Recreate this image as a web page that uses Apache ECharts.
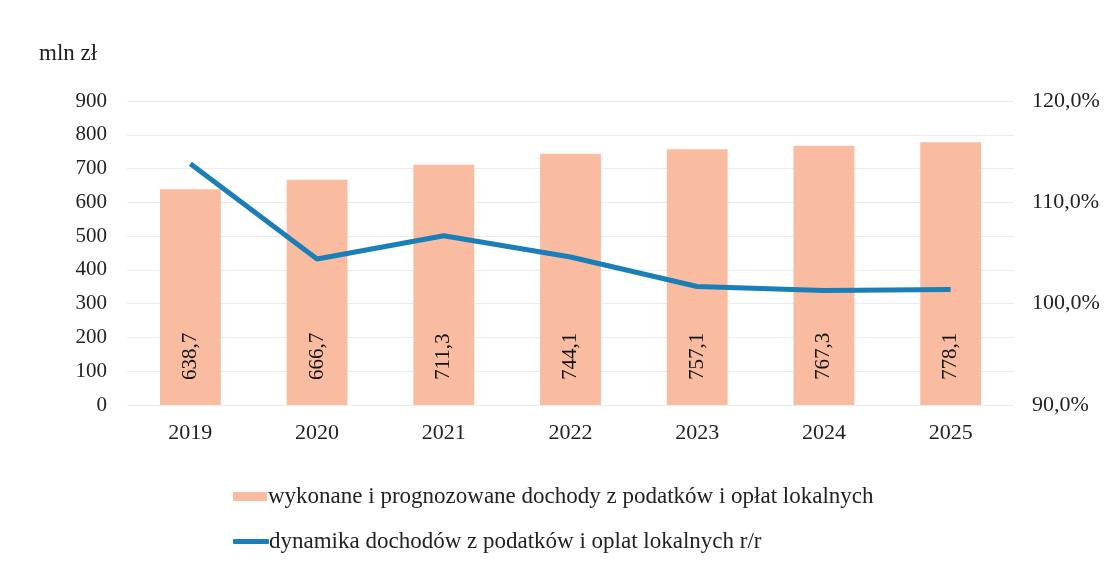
<!DOCTYPE html>
<html>
<head>
<meta charset="utf-8">
<script src="https://cdn.jsdelivr.net/npm/echarts@6/dist/echarts.min.js"></script>
<style>
  html, body { margin: 0; padding: 0; background: #fff; }
  #chart { width: 1117px; height: 574px; }
</style>
</head>
<body>
<div id="chart"></div>
<script>
  // lata
  var years = ['2019', '2020', '2021', '2022', '2023', '2024', '2025']
  // dochody w mln zł
  var income = [638.7, 666.7, 711.3, 744.1, 757.1, 767.3, 778.1]
  // dynamika r/r w %
  var dynamics = [113.8, 104.4, 106.7, 104.6, 101.7, 101.3, 101.4]

  var barName = 'wykonane i prognozowane dochody z podatków i opłat lokalnych'
  var lineName = 'dynamika dochodów z podatków i oplat lokalnych r/r'
  var font = 'Liberation Serif'
  var barColor = '#f9bca0'
  var lineColor = '#1a7fb8'

  var myChart = echarts.init(document.getElementById('chart'))
  myChart.setOption({
    animation: false,
    textStyle: { fontFamily: font },
    grid: { left: 127, right: 103, top: 101, bottom: 169 },
    graphic: [{
      type: 'text', left: 39, top: 42,
      style: { text: 'mln zł', fontFamily: font, fontSize: 23, fill: '#222' }
    }],
    legend: [
      {
        left: 228, top: 480,
        itemWidth: 34, itemHeight: 9,
        textStyle: { fontFamily: font, fontSize: 23, color: '#222', padding: [0, 0, 0, -4] },
        data: [{ name: barName, icon: 'rect' }]
      },
      {
        left: 228, top: 525,
        itemWidth: 36, itemHeight: 5,
        textStyle: { fontFamily: font, fontSize: 23, color: '#222', padding: [0, 0, 0, -5] },
        data: [{ name: lineName, icon: 'roundRect' }]
      }
    ],
    xAxis: {
      type: 'category',
      data: years,
      axisLine: { show: false },
      axisTick: { show: false },
      axisLabel: { color: '#222', fontSize: 22, margin: 17, fontFamily: font }
    },
    yAxis: [
      {
        type: 'value',
        min: 0, max: 900, interval: 100,
        axisLabel: { color: '#222', fontSize: 21, margin: 20, fontFamily: font },
        splitLine: { lineStyle: { color: '#ececec', width: 1 } },
        axisLine: { show: false },
        axisTick: { show: false }
      },
      {
        type: 'value',
        min: 90, max: 120, interval: 10,
        axisLabel: {
          color: '#222', fontSize: 22, margin: 18, fontFamily: font,
          formatter: function (v) { return v.toFixed(1).replace('.', ',') + '%' }
        },
        splitLine: { show: false },
        axisLine: { show: false },
        axisTick: { show: false }
      }
    ],
    series: [
      {
        name: barName,
        type: 'bar',
        barWidth: '48%',
        itemStyle: { color: barColor },
        label: {
          show: true,
          position: 'insideBottom',
          rotate: 90,
          align: 'left',
          verticalAlign: 'middle',
          distance: 25,
          color: '#111',
          fontSize: 21,
          fontFamily: font,
          formatter: function (p) { return p.value.toFixed(1).replace('.', ',') }
        },
        data: income
      },
      {
        name: lineName,
        type: 'line',
        yAxisIndex: 1,
        symbol: 'none',
        lineStyle: { color: lineColor, width: 5 },
        itemStyle: { color: lineColor },
        data: dynamics
      }
    ]
  })
</script>
</body>
</html>
